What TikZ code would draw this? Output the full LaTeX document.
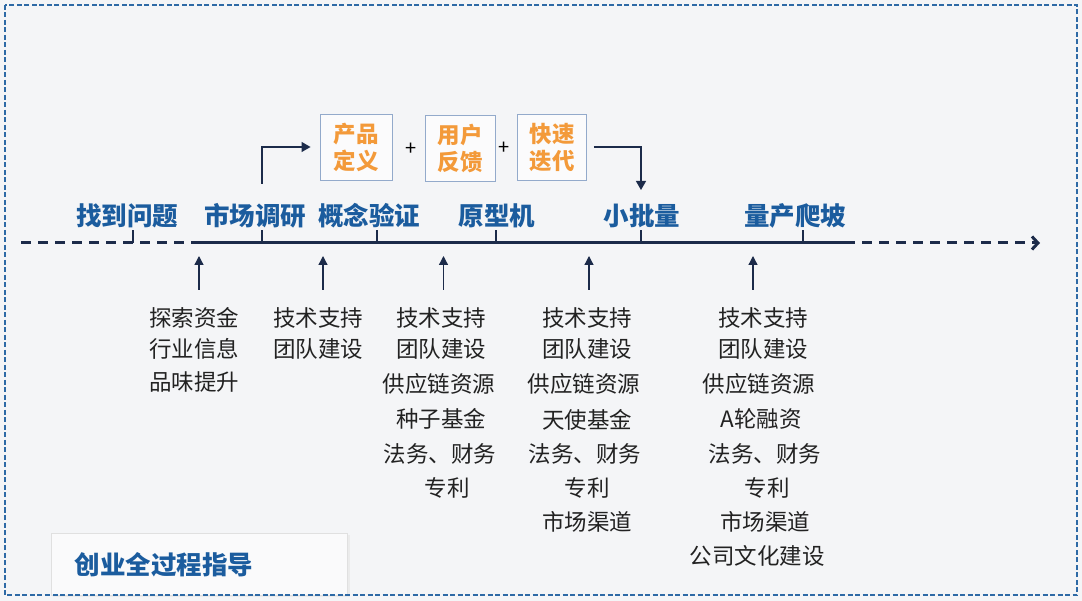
\documentclass[tikz,border=0pt]{standalone}
\usepackage{fontspec}
\newfontfamily\cjk{Noto Sans CJK SC}
\usetikzlibrary{arrows.meta}
\definecolor{navy}{HTML}{1C2B4A}
\definecolor{lblue}{HTML}{1B5C9E}
\definecolor{bord}{HTML}{2E6AA6}
\definecolor{boxb}{HTML}{93AACB}
\definecolor{orng}{HTML}{F39A3A}
\definecolor{txt}{HTML}{222222}
\definecolor{bg}{HTML}{F4F5F7}
\tikzset{
  stage/.style={font=\cjk\bfseries\fontsize{25.5}{30}\selectfont, text=lblue, inner sep=0pt},
  stepbox/.style={draw=boxb, line width=0.9pt, fill=white!60!bg, minimum width=72pt, minimum height=66pt, align=center, inner sep=0pt, font=\cjk\bfseries\fontsize{22.5}{27}\selectfont, text=orng},
  res/.style={font=\cjk\fontsize{22.5}{26}\selectfont, text=txt, inner sep=0pt, anchor=center},
  plus/.style={font=\cjk\fontsize{20}{20}\selectfont, text=black, inner sep=0pt},
  tickline/.style={navy, line width=2.6pt},
  uparr/.style={navy, line width=1.3pt, -{Triangle[length=9pt,width=9pt]}},
  flowarr/.style={navy, line width=1.2pt, -{Triangle[length=9pt,width=10pt]}},
}
\begin{document}
\begin{tikzpicture}[x=1pt,y=-1pt]
\useasboundingbox (0,0) rectangle (1082,601);
\fill[bg] (0,0) rectangle (1082,601);

% timeline
\coordinate (L0) at (21,243);
\coordinate (L1) at (200,243);
\coordinate (L2) at (845,243);
\coordinate (L3) at (1040,243);
\draw[navy, line width=3pt, dash pattern=on 10pt off 7pt] (L0) -- (L1);
\draw[navy, line width=3pt] (L1) -- (L2);
\draw[navy, line width=3pt, dash pattern=on 10pt off 7pt, -{Straight Barb[length=6pt,width=13pt,line width=3pt]}] (L2) -- (L3);

% ticks
\foreach \n/\x in {t1/133, t2/262, t3/377, t4/496, t5/641, t6/803}{
  \coordinate (\n) at (\x,243);
  \coordinate (\n u) at (\x,230);
  \draw[tickline] (\n) -- (\n u);
}

% stage labels
\node[stage] (s1) at (127,216) {找到问题};
\node[stage] (s2) at (255,216) {市场调研};
\node[stage] (s3) at (369,216) {概念验证};
\node[stage] (s4) at (497,216) {原型机};
\node[stage] (s5) at (642,216) {小批量};
\node[stage] (s6) at (795,216) {量产爬坡};

% boxes
\node[stepbox] (b1) at (356,147) {产品\\定义};
\node[stepbox, minimum width=70pt] (b2) at (460,148) {用户\\反馈};
\node[stepbox, minimum width=69pt] (b3) at (552,147) {快速\\迭代};
\node[plus] (p1) at (411,149) {+};
\node[plus] (p2) at (504,148) {+};

\coordinate (a1s) at (262,184);
\draw[flowarr] (a1s) |- ([xshift=-9pt]b1.west);
\coordinate (a2e) at (641,190);
\draw[flowarr] ([xshift=7pt]b3.east) -| (a2e);

% up arrows
\foreach \n/\x in {u1/199, u2/323, u3/443.5, u4/589, u5/753}{
  \coordinate (\n b) at (\x,290);
  \coordinate (\n t) at (\x,256);
  \draw[uparr] (\n b) -- (\n t);
}

% resource columns
\node[res] (c1a) at (194,318) {探索资金};
\node[res] (c1b) at (194,349) {行业信息};
\node[res] (c1c) at (194,382) {品味提升};

\node[res] (c2a) at (318,318) {技术支持};
\node[res] (c2b) at (318,349) {团队建设};

\node[res] (c3a) at (441,318) {技术支持};
\node[res] (c3b) at (441,349) {团队建设};
\node[res] (c3c) at (439,384) {供应链资源};
\node[res] (c3d) at (441,419) {种子基金};
\node[res] (c3e) at (440,454) {法务、财务};
\node[res] (c3f) at (447,488) {专利};

\node[res] (c4a) at (587,318) {技术支持};
\node[res] (c4b) at (587,349) {团队建设};
\node[res] (c4c) at (584,384) {供应链资源};
\node[res] (c4d) at (587,420) {天使基金};
\node[res] (c4e) at (585,454) {法务、财务};
\node[res] (c4f) at (587,488) {专利};
\node[res] (c4g) at (587,522) {市场渠道};

\node[res] (c5a) at (763,318) {技术支持};
\node[res] (c5b) at (763,349) {团队建设};
\node[res] (c5c) at (759,384) {供应链资源};
\node[res] (c5d) at (761,419) {A轮融资};
\node[res] (c5e) at (765,454) {法务、财务};
\node[res] (c5f) at (767,488) {专利};
\node[res] (c5g) at (765,522) {市场渠道};
\node[res] (c5h) at (757,556) {公司文化建设};

% title box
\fill[black!8] (53,535) rectangle (350,597);
\draw[black!12, line width=0.8pt, fill=white!50!bg] (51,533) rectangle (347,595);
\node[stage, font=\cjk\bfseries\fontsize{25.5}{30}\selectfont] (title) at (164,565) {创业全过程指导};
\draw[bord, line width=1.9pt, dash pattern=on 5pt off 2.5pt] (5,5) rectangle (1077,595);
\end{tikzpicture}
\end{document}
